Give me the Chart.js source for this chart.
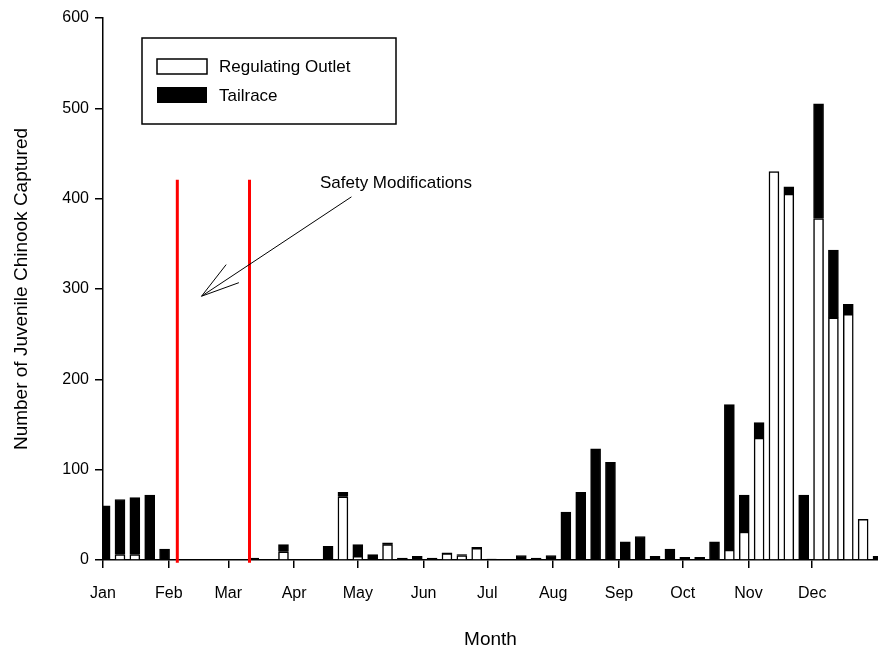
<!DOCTYPE html>
<html>
<head>
<meta charset="utf-8">
<script src="https://cdn.jsdelivr.net/npm/chart.js@4"></script>
<style>
  html, body { margin: 0; padding: 0; background: #fff; }
  #wrap { width: 878px; height: 651px; }
</style>
</head>
<body>
<div id="wrap"><canvas id="chinookChart" width="878" height="651"></canvas></div>
<script>
// week centres, in day of year
const weekDays = [1, 8, 15, 22, 29, 36, 43, 50, 57, 64, 71, 78, 85, 92, 99, 106, 113, 120, 127, 134,
                  141, 148, 155, 162, 169, 176, 183, 190, 197, 204, 211, 218, 225, 232, 239, 246,
                  253, 260, 267, 274, 281, 288, 295, 302, 309, 316, 323, 330, 337, 344, 351, 358, 365];
const regulatingOutlet = [0, 6, 6, 0, 0, 0, 0, 0, 0, 0, 0, 0, 9, 0, 0, 0, 70, 4, 0, 17,
                          0, 0, 0, 7, 5, 13, 0, 0, 0, 0, 0, 0, 0, 0, 0, 0,
                          0, 0, 0, 0, 0, 0, 11, 31, 135, 430, 405, 0, 378, 268, 272, 45, 0];
const tailrace = [60, 61, 63, 72, 12, 0, 0, 0, 0, 0, 2, 0, 8, 0, 0, 15, 5, 13, 6, 2,
                  2, 4, 2, 1, 1, 1, 1, 0, 5, 2, 5, 53, 75, 123, 108, 20,
                  26, 4, 12, 3, 3, 20, 161, 41, 17, 0, 8, 72, 127, 75, 11, 0, 4];

const monthDays = [0, 31, 59, 90, 120, 151, 181, 212, 243, 273, 304, 334];
const monthLabels = ['Jan', 'Feb', 'Mar', 'Apr', 'May', 'Jun', 'Jul', 'Aug', 'Sep', 'Oct', 'Nov', 'Dec'];
const yTicks = [0, 100, 200, 300, 400, 500, 600];

// safety modification dates (day of year) and the height of their markers
const safetyDays = [35, 69];
const safetyTop = 421;

const FONT = "'Liberation Sans', Arial, sans-serif";

const legendAndNotes = {
    id: 'legendAndNotes',
    afterDatasetsDraw(chart) {
        const ctx = chart.ctx;
        const xs = chart.scales.x, ys = chart.scales.y;
        ctx.save();

        // arrow pointing at the safety lines
        const px = (d) => xs.getPixelForValue(d);
        const py = (v) => ys.getPixelForValue(v);
        ctx.strokeStyle = '#000';
        ctx.lineWidth = 1;
        ctx.beginPath();
        ctx.moveTo(px(117), py(402));
        ctx.lineTo(px(46.4), py(292));
        ctx.lineTo(px(58), py(327));
        ctx.moveTo(px(46.4), py(292));
        ctx.lineTo(px(64), py(307));
        ctx.stroke();

        ctx.fillStyle = '#000';
        ctx.font = '17px ' + FONT;
        ctx.textAlign = 'center';
        ctx.textBaseline = 'middle';
        ctx.fillText('Safety Modifications', px(138), py(417));

        // legend box
        ctx.lineWidth = 1.5;
        ctx.strokeRect(142, 38, 254, 86);
        ctx.fillStyle = '#fff';
        ctx.fillRect(157, 59, 50, 15);
        ctx.strokeRect(157, 59, 50, 15);
        ctx.fillStyle = '#000';
        ctx.fillRect(157, 87, 50, 16);
        ctx.font = '17px ' + FONT;
        ctx.textAlign = 'left';
        ctx.fillText('Regulating Outlet', 219, 67);
        ctx.fillText('Tailrace', 219, 96);
        ctx.restore();
    }
};

const ctx = document.getElementById('chinookChart').getContext('2d');
new Chart(ctx, {
    type: 'bar',
    data: {
        datasets: [
            {
                label: 'Regulating Outlet',
                data: weekDays.map((d, i) => ({ x: d, y: regulatingOutlet[i] })),
                backgroundColor: '#ffffff',
                borderColor: '#000000',
                borderWidth: 1.5,
                barThickness: 10,
                order: 2
            },
            {
                label: 'Tailrace',
                data: weekDays.map((d, i) => ({ x: d, y: tailrace[i] })),
                backgroundColor: '#000000',
                borderColor: '#000000',
                borderWidth: 1,
                barThickness: 10,
                order: 2
            },
            {
                type: 'line',
                label: 'Safety 1',
                data: [{ x: safetyDays[0], y: -3 }, { x: safetyDays[0], y: safetyTop }],
                borderColor: '#ff0000',
                borderWidth: 3,
                pointRadius: 0,
                clip: false,
                stack: 'lines1',
                order: 1
            },
            {
                type: 'line',
                label: 'Safety 2',
                data: [{ x: safetyDays[1], y: -3 }, { x: safetyDays[1], y: safetyTop }],
                borderColor: '#ff0000',
                borderWidth: 3,
                pointRadius: 0,
                clip: false,
                stack: 'lines2',
                order: 1
            }
        ]
    },
    options: {
        responsive: false,
        animation: false,
        layout: { padding: { top: 18, right: 0, left: 0, bottom: 0 } },
        plugins: {
            legend: { display: false },
            tooltip: { enabled: false }
        },
        scales: {
            x: {
                type: 'linear',
                stacked: true,
                offset: false,
                min: 0,
                max: 365,
                afterBuildTicks: (scale) => { scale.ticks = monthDays.map(v => ({ value: v })); },
                afterFit: (scale) => { scale.height = 91; },
                ticks: {
                    autoSkip: false,
                    maxRotation: 0,
                    padding: 16,
                    color: '#000',
                    font: { family: FONT, size: 16 },
                    callback: (v) => monthLabels[monthDays.indexOf(v)]
                },
                grid: { display: true, offset: false, drawOnChartArea: false, drawTicks: true, tickLength: 8, color: '#000', lineWidth: 1.5 },
                border: { display: true, color: '#000', width: 1.5 },
                title: {
                    display: true,
                    text: 'Month',
                    color: '#000',
                    font: { family: FONT, size: 19 },
                    padding: { top: 0, bottom: 0 }
                }
            },
            y: {
                stacked: true,
                min: 0,
                max: 600,
                afterBuildTicks: (scale) => { scale.ticks = yTicks.map(v => ({ value: v })); },
                afterFit: (scale) => { scale.width = 103; },
                ticks: {
                    padding: 6,
                    color: '#000',
                    font: { family: FONT, size: 16 }
                },
                grid: { display: true, drawOnChartArea: false, drawTicks: true, tickLength: 8, color: '#000', lineWidth: 1.5 },
                border: { display: true, color: '#000', width: 1.5 },
                title: {
                    display: true,
                    text: 'Number of Juvenile Chinook Captured',
                    color: '#000',
                    font: { family: FONT, size: 19 },
                    padding: { top: 10, bottom: 0 }
                }
            }
        }
    },
    plugins: [legendAndNotes]
});
</script>
</body>
</html>
